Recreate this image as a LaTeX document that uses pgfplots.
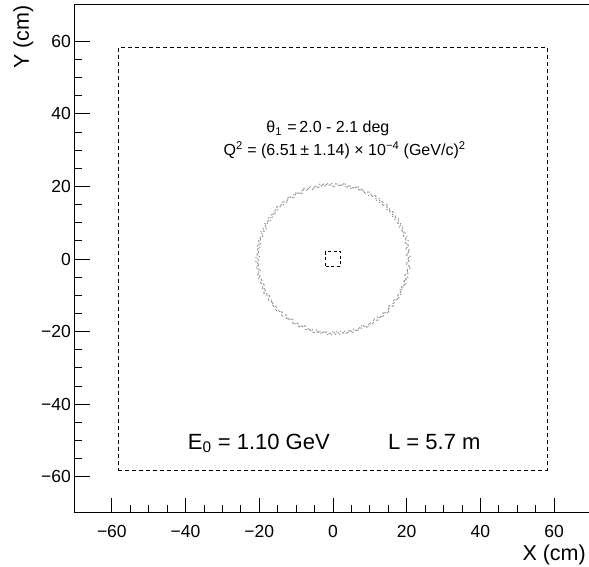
\documentclass[border=0pt]{standalone}
\usepackage{fontspec}
\setmainfont{Liberation Sans}
\usepackage{pgfplots}
\pgfplotsset{compat=1.18}
\begin{document}
\begin{tikzpicture}
\path[use as bounding box] (-75pt,-54pt) rectangle (514pt,513pt);
\begin{axis}[
  at={(0,0)}, anchor=south west,
  scale only axis, width=516pt, height=508pt,
  xmin=-70, xmax=70, ymin=-70, ymax=70,
  axis line style={line width=1pt},
  tick pos=left, tick align=inside,
  every tick/.style={black, line width=0.9pt},
  major tick length=15pt, minor tick length=7.5pt,
  xtick={-60,-40,-20,0,20,40,60},
  ytick={-60,-40,-20,0,20,40,60},
  xticklabels={−60,−40,−20,0,20,40,60},
  yticklabels={−60,−40,−20,0,20,40,60},
  minor tick num=3,
  ticklabel style={font=\fontsize{17.5}{21}\selectfont, inner sep=0pt},
  xticklabel shift=12pt, yticklabel shift=4pt,
  xlabel={X (cm)}, ylabel={Y (cm)},
  label style={font=\fontsize{21.5}{25}\selectfont, inner sep=0pt},
  x label style={at={([xshift=-5pt,yshift=-48pt]axis description cs:1,0)}, anchor=base east},
  y label style={at={([xshift=-46pt]axis description cs:0,1)}, rotate=0, anchor=base east},
]
\addplot[black, line width=0.9pt, dash pattern=on 4pt off 3pt] coordinates {(-58.2,-58.2)(58.2,-58.2)(58.2,58.2)(-58.2,58.2)(-58.2,-58.2)};
\addplot[black, line width=0.9pt, dash pattern=on 3pt off 2.5pt] coordinates {(-2,-2)(2,-2)(2,2)(-2,2)(-2,-2)};
\addplot[only marks, data cs=polar, color=gray!85, mark=*, mark size=0.42pt, mark options={draw=none, fill=gray!85}] coordinates {
(0,20.4)(2,20.9)(4,20.2)(6,20.6)(8,20.0)(10,20.7)(12,20.3)(14,21.0)(16,20.5)(18,20.1)(20,20.8)(22,20.4)
(24,20.6)(26,20.1)(28,20.8)(30,20.3)(32,20.9)(34,20.5)(36,20.0)(38,20.7)(40,20.2)(42,20.6)(44,20.4)(46,21.0)
(48,20.2)(50,20.7)(52,20.4)(54,20.0)(56,20.8)(58,20.3)(60,20.6)(62,20.9)(64,20.1)(66,20.5)(68,20.7)(70,20.3)
(72,20.8)(74,20.4)(76,20.1)(78,20.6)(80,20.2)(82,20.9)(84,20.5)(86,20.3)(88,20.7)(90,20.0)(92,20.4)(94,20.8)
(96,20.3)(98,20.6)(100,20.9)(102,20.2)(104,20.5)(106,20.0)(108,20.7)(110,20.4)(112,21.0)(114,20.6)(116,20.1)(118,20.5)
(120,20.5)(122,20.0)(124,20.6)(126,20.8)(128,20.3)(130,20.7)(132,20.1)(134,20.4)(136,20.9)(138,20.2)(140,20.6)(142,20.3)
(144,20.7)(146,20.3)(148,20.0)(150,20.5)(152,20.9)(154,20.4)(156,20.8)(158,20.2)(160,20.6)(162,20.1)(164,20.5)(166,20.8)
(168,20.1)(170,20.8)(172,20.5)(174,20.3)(176,20.6)(178,20.0)(180,20.4)(182,20.9)(184,20.2)(186,20.7)(188,20.3)(190,20.6)
(192,20.9)(194,20.5)(196,20.2)(198,20.7)(200,20.1)(202,20.6)(204,20.3)(206,20.8)(208,20.4)(210,20.0)(212,20.7)(214,20.2)
(216,20.4)(218,20.7)(220,20.3)(222,20.9)(224,20.5)(226,20.2)(228,20.8)(230,20.1)(232,20.6)(234,20.4)(236,20.0)(238,20.7)
(240,20.6)(242,20.2)(244,20.8)(246,20.4)(248,20.0)(250,20.7)(252,20.5)(254,20.3)(256,20.9)(258,20.6)(260,20.2)(262,20.4)
(264,20.3)(266,20.9)(268,20.5)(270,20.1)(272,20.7)(274,20.4)(276,20.0)(278,20.6)(280,20.8)(282,20.3)(284,20.5)(286,20.1)
(288,20.7)(290,20.4)(292,20.6)(294,20.2)(296,20.9)(298,20.5)(300,20.3)(302,20.7)(304,20.0)(306,20.8)(308,20.4)(310,20.6)
(312,20.2)(314,20.6)(316,20.9)(318,20.4)(320,20.1)(322,20.8)(324,20.5)(326,20.2)(328,20.7)(330,20.3)(332,20.9)(334,20.5)
(336,20.5)(338,20.1)(340,20.7)(342,20.3)(344,20.6)(346,20.9)(348,20.2)(350,20.5)(352,20.4)(354,20.8)(356,20.0)(358,20.6)
(1,20.5)(3,20.0)(5,20.6)(7,20.8)(9,20.3)(11,20.7)(13,20.1)(15,20.4)(17,20.9)(19,20.2)(21,20.6)(23,20.3)
(25,20.9)(27,20.5)(29,20.2)(31,20.7)(33,20.1)(35,20.6)(37,20.3)(39,20.8)(41,20.4)(43,20.0)(45,20.7)(47,20.2)
(49,20.6)(51,20.1)(53,20.8)(55,20.3)(57,20.9)(59,20.5)(61,20.0)(63,20.7)(65,20.2)(67,20.6)(69,20.4)(71,21.0)
(73,20.7)(75,20.4)(77,20.6)(79,20.2)(81,20.9)(83,20.5)(85,20.3)(87,20.7)(89,20.0)(91,20.8)(93,20.4)(95,20.6)
(97,20.8)(99,20.4)(101,20.1)(103,20.6)(105,20.2)(107,20.9)(109,20.5)(111,20.3)(113,20.7)(115,20.0)(117,20.4)(119,20.8)
(121,20.6)(123,20.2)(125,20.8)(127,20.4)(129,20.0)(131,20.7)(133,20.5)(135,20.3)(137,20.9)(139,20.6)(141,20.2)(143,20.4)
(145,20.1)(147,20.8)(149,20.5)(151,20.3)(153,20.6)(155,20.0)(157,20.4)(159,20.9)(161,20.2)(163,20.7)(165,20.3)(167,20.6)
(169,20.5)(171,20.1)(173,20.7)(175,20.3)(177,20.6)(179,20.9)(181,20.2)(183,20.5)(185,20.4)(187,20.8)(189,20.0)(191,20.6)
(193,20.4)(195,20.9)(197,20.2)(199,20.6)(201,20.0)(203,20.7)(205,20.3)(207,21.0)(209,20.5)(211,20.1)(213,20.8)(215,20.4)
(217,20.4)(219,20.7)(221,20.3)(223,20.9)(225,20.5)(227,20.2)(229,20.8)(231,20.1)(233,20.6)(235,20.4)(237,20.0)(239,20.7)
(241,20.2)(243,20.7)(245,20.4)(247,20.0)(249,20.8)(251,20.3)(253,20.6)(255,20.9)(257,20.1)(259,20.5)(261,20.7)(263,20.3)
(265,20.2)(267,20.6)(269,20.9)(271,20.4)(273,20.1)(275,20.8)(277,20.5)(279,20.2)(281,20.7)(283,20.3)(285,20.9)(287,20.5)
(289,20.7)(291,20.3)(293,20.0)(295,20.5)(297,20.9)(299,20.4)(301,20.8)(303,20.2)(305,20.6)(307,20.1)(309,20.5)(311,20.8)
(313,20.3)(315,20.9)(317,20.5)(319,20.1)(321,20.7)(323,20.4)(325,20.0)(327,20.6)(329,20.8)(331,20.3)(333,20.5)(335,20.1)
(337,20.3)(339,20.6)(341,20.9)(343,20.2)(345,20.5)(347,20.0)(349,20.7)(351,20.4)(353,21.0)(355,20.6)(357,20.1)(359,20.5)
};
\node[anchor=base west, inner sep=0pt, font=\fontsize{16}{19}\selectfont] at (axis cs:-18.1,34.8) {θ\textsubscript{1}\,\,=\,2.0 - 2.1 deg};
\node[anchor=base west, inner sep=0pt, font=\fontsize{16}{19}\selectfont] at (axis cs:-29.7,28.4) {Q\textsuperscript{2} = (6.51\,± 1.14) × 10\textsuperscript{−4} (GeV/c)\textsuperscript{2}};
\node[anchor=base west, inner sep=0pt, font=\fontsize{22}{26}\selectfont] at (axis cs:-39.4,-52.4) {E\textsubscript{0} = 1.10 GeV};
\node[anchor=base west, inner sep=0pt, font=\fontsize{22}{26}\selectfont] at (axis cs:14.9,-52.4) {L = 5.7 m};
\end{axis}
\end{tikzpicture}
\end{document}
